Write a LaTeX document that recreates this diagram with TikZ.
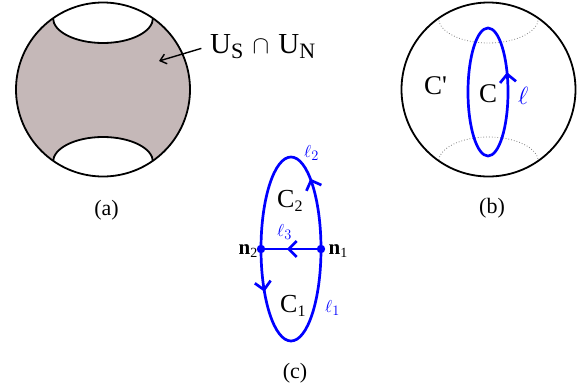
\documentclass[tikz,border=0pt]{standalone}
\usepackage{fontspec}
\setmainfont{Liberation Serif}
\usetikzlibrary{arrows.meta,decorations.markings}
\definecolor{capgray}{RGB}{197,184,184}
\newcommand{\lowsub}[3]{\raisebox{-#1pt}{\fontsize{#2}{#2}\selectfont #3}}
\tikzset{
  rim/.style={line width=1.8pt},
  hidden/.style={gray, dotted, line width=0.8pt},
  loopline/.style={blue, line width=2.7pt},
  pointer/.style={line width=1.4pt, -{Straight Barb[length=6pt,width=10pt]}},
  midarrow/.style={postaction={decorate}, decoration={markings,
      mark=at position #1 with {\arrow{Straight Barb[length=8pt,width=16pt]}}}},
  lab/.style={inner sep=0pt, anchor=base west},
  panellab/.style={inner sep=0pt, anchor=base, font=\fontsize{22}{24}\selectfont}
}
\begin{document}
\begin{tikzpicture}[x=1pt,y=-1pt]
  \useasboundingbox (0,0) rectangle (582,391);

  % (a)
  \coordinate (ca) at (103,89.5);
  \fill[capgray] (ca) circle (87);
  \begin{scope}
    \clip (ca) circle (87);
    \fill[white] (103,18) ellipse [x radius=50, y radius=25];
    \fill[white] (103,162) ellipse [x radius=50, y radius=25];
    \draw[rim] (103,18) ellipse [x radius=50, y radius=25];
    \draw[rim] (103,162) ellipse [x radius=50, y radius=25];
  \end{scope}
  \draw[rim] (ca) circle (87);

  \node[lab, inner sep=1pt, font=\fontsize{29}{31}\selectfont] (UU) at (209,53)
    {U\lowsub{5}{22}{S}\hspace{2pt} $\cap$ \hspace{2pt}U\lowsub{5}{22}{N}};
  \coordinate (aspot) at (159,61);
  \draw[pointer, shorten <=8pt] (UU.west) -- (aspot);
  \node[panellab] (laba) at (106.5,215) {(a)};

  % (b)
  \coordinate (cb) at (488.5,89.5);
  \begin{scope}
    \clip (cb) circle (87);
    \draw[hidden] (488.5,18) ellipse [x radius=50, y radius=25];
    \draw[hidden] (488.5,162) ellipse [x radius=50, y radius=25];
  \end{scope}
  \draw[rim] (cb) circle (87);
  \draw[loopline, midarrow=0.07] (508,92) arc [start angle=0, end angle=-360, x radius=20, y radius=64];

  \node[lab, font=\fontsize{27}{29}\selectfont] (Cout) at (424,94) {C\textquotesingle};
  \node[lab, font=\fontsize{27}{29}\selectfont] (Cin) at (479,102) {C};
  \node[lab, blue, font=\fontsize{25}{27}\selectfont] (ell) at (518,104) {$\ell$};
  \node[panellab] (labb) at (492,213) {(b)};

  % (c)
  \coordinate (n1) at (321,249);
  \coordinate (n2) at (261,249);
  \draw[loopline, midarrow=0.35] (n1) arc [start angle=0, end angle=-180, x radius=30, y radius=92];
  \draw[loopline, midarrow=0.21] (n2) arc [start angle=180, end angle=0, x radius=30, y radius=92];
  \draw[loopline, midarrow=0.57] (n1) -- (n2);
  \fill[blue] (n1) circle (4.2);
  \fill[blue] (n2) circle (4.2);

  \node[lab, font=\fontsize{21}{24}\selectfont] (n1lab) at (328.5,254) {\textbf{n}\lowsub{3}{14}{1}};
  \node[lab, font=\fontsize{21}{24}\selectfont] (n2lab) at (238.5,254) {\textbf{n}\lowsub{3}{14}{2}};
  \node[lab, font=\fontsize{26}{28}\selectfont] (C2) at (277,207) {C\lowsub{4}{16}{2}};
  \node[lab, font=\fontsize{26}{28}\selectfont] (C1) at (280,312) {C\lowsub{4}{16}{1}};
  \node[lab, blue, font=\fontsize{19}{21}\selectfont] (l2) at (304,157) {$\ell_2$};
  \node[lab, blue, font=\fontsize{19}{21}\selectfont] (l3) at (277,236) {$\ell_3$};
  \node[lab, blue, font=\fontsize{19}{21}\selectfont] (l1) at (325,312) {$\ell_1$};
  \node[panellab] (labc) at (295,378) {(c)};
\end{tikzpicture}
\end{document}
